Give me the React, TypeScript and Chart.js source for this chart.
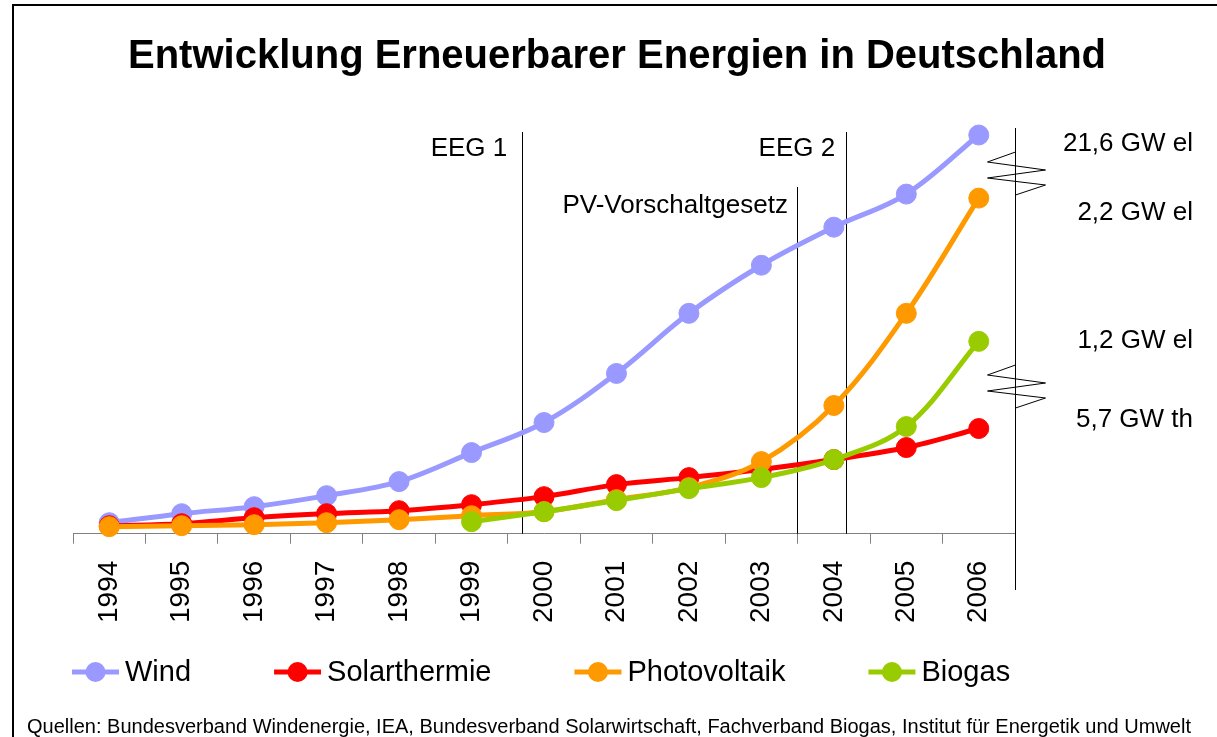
import React, { useEffect, useRef } from "react";
import { Chart, registerables } from "chart.js";

Chart.register(...registerables);

const years = ["1994", "1995", "1996", "1997", "1998", "1999", "2000", "2001", "2002", "2003", "2004", "2005", "2006"];
const wind = [11, 20, 27, 38, 52, 81, 111, 160, 220, 268, 306, 339, 398];
const solarthermie = [8, 10, 16, 20, 23, 29, 37, 49, 56, 64, 74, 86, 105];
const photovoltaik = [7, 8, 9, 11, 14, 18, 22, 34, 46, 72, 128, 220, 335];
const biogas = [null, null, null, null, null, 12, 22, 33, 45, 56, 74, 107, 192];
const seriesNames = ["Wind", "Solarthermie", "Photovoltaik", "Biogas"];
const seriesColors = ["#9999FF", "#FF0000", "#FF9900", "#99CC00"];
const eventNames = ["EEG 1", "PV-Vorschaltgesetz", "EEG 2"];
const eventYears = [1999.7, 2003.49, 2004.17];
const endLabels = ["21,6 GW el", "2,2 GW el", "1,2 GW el", "5,7 GW th"];
const titleText = "Entwicklung Erneuerbarer Energien in Deutschland";
const sourceText =
  "Quellen: Bundesverband Windenergie, IEA, Bundesverband Solarwirtschaft, Fachverband Biogas, Institut für Energetik und Umwelt";

const FONT = "'Liberation Sans', Arial, sans-serif";

const extrasPlugin = {
  id: "extras",
  beforeDatasetsDraw(chart: any) {
    const { ctx, chartArea, scales } = chart;
    const x = scales.x;
    const tops = [132, 187, 132];
    ctx.save();
    ctx.strokeStyle = "#000";
    ctx.lineWidth = 1;
    eventYears.forEach((yr, i) => {
      const px = Math.round(x.getPixelForValue(yr - 1994)) + 0.5;
      ctx.beginPath();
      ctx.moveTo(px, tops[i]);
      ctx.lineTo(px, chartArea.bottom);
      ctx.stroke();
    });
    // right-side axis with break marks
    const R = Math.round(chartArea.right) + 0.5;
    ctx.beginPath();
    ctx.moveTo(R, 128);
    ctx.lineTo(R, 590);
    ctx.stroke();
    [152, 365].forEach((y0) => {
      ctx.beginPath();
      ctx.moveTo(R, y0);
      ctx.lineTo(R - 28, y0 + 10);
      ctx.lineTo(R + 30, y0 + 18);
      ctx.lineTo(R - 28, y0 + 26);
      ctx.lineTo(R + 30, y0 + 33);
      ctx.lineTo(R, y0 + 43);
      ctx.stroke();
    });
    ctx.restore();
  },
  afterDraw(chart: any) {
    const { ctx, scales } = chart;
    const x = scales.x;
    ctx.save();
    // frame
    ctx.fillStyle = "#000";
    ctx.fillRect(12, 4, 2, 733);
    ctx.fillRect(12, 4, 1205, 2);

    // title
    ctx.font = `bold 40px ${FONT}`;
    ctx.textAlign = "center";
    ctx.textBaseline = "middle";
    ctx.fillText(titleText, 617, 57);

    // event labels
    ctx.font = `26px ${FONT}`;
    ctx.textAlign = "right";
    const gaps = [15, 9, 11];
    const ys = [149, 206, 149];
    eventNames.forEach((name, i) => {
      const px = x.getPixelForValue(eventYears[i] - 1994);
      ctx.fillText(name, px - gaps[i], ys[i]);
    });

    // end labels
    const endY = [144, 213, 341, 420];
    endLabels.forEach((t, i) => ctx.fillText(t, 1193, endY[i]));

    // legend
    ctx.textAlign = "left";
    ctx.font = `29px ${FONT}`;
    let lx = 72;
    const ly = 672;
    seriesNames.forEach((name, i) => {
      ctx.strokeStyle = seriesColors[i];
      ctx.fillStyle = seriesColors[i];
      ctx.lineWidth = 5;
      ctx.beginPath();
      ctx.moveTo(lx, ly);
      ctx.lineTo(lx + 47, ly);
      ctx.stroke();
      ctx.beginPath();
      ctx.arc(lx + 23.5, ly, 10, 0, Math.PI * 2);
      ctx.fill();
      ctx.fillStyle = "#000";
      ctx.fillText(name, lx + 53, ly + 1);
      lx = lx + 53 + ctx.measureText(name).width + 83;
    });

    // source
    ctx.font = `20px ${FONT}`;
    ctx.fillText(sourceText, 27, 727);
    ctx.restore();
  },
};

export default function App() {
  const canvasRef = useRef<HTMLCanvasElement | null>(null);

  useEffect(() => {
    if (!canvasRef.current) return;
    Chart.defaults.font.family = FONT;
    const series = [wind, solarthermie, photovoltaik, biogas];
    const chart = new Chart(canvasRef.current, {
      type: "line",
      data: {
        labels: years,
        datasets: series.map((d, i) => ({
          label: seriesNames[i],
          data: d,
          borderColor: seriesColors[i],
          backgroundColor: seriesColors[i],
          pointBackgroundColor: seriesColors[i],
          pointBorderColor: seriesColors[i],
          borderWidth: 5,
          pointRadius: 10,
          pointBorderWidth: 1,
          tension: 0.35,
          fill: false,
          clip: false,
          order: 4 - i,
        })),
      },
      options: {
        responsive: false,
        animation: false,
        layout: { padding: { left: 73, right: 202, top: 128, bottom: 97 } },
        plugins: {
          legend: { display: false },
          title: { display: false },
          tooltip: { enabled: false },
        },
        scales: {
          x: {
            offset: true,
            grid: {
              display: true,
              drawOnChartArea: false,
              drawTicks: true,
              tickLength: 10,
              color: "#808080",
              offset: true,
            },
            border: { display: true, color: "#808080", width: 1 },
            ticks: {
              font: { size: 28, family: FONT },
              color: "#000",
              minRotation: 90,
              maxRotation: 90,
              padding: 17,
              autoSkip: false,
            },
          },
          y: {
            display: false,
            min: 0,
            max: 405,
          },
        },
      },
      plugins: [extrasPlugin],
    });
    return () => chart.destroy();
  }, []);

  return (
    <div style={{ position: "absolute", left: 0, top: 0, width: 1217, height: 737, background: "#fff" }}>
      <canvas ref={canvasRef} width={1217} height={737} style={{ display: "block" }} />
    </div>
  );
}
